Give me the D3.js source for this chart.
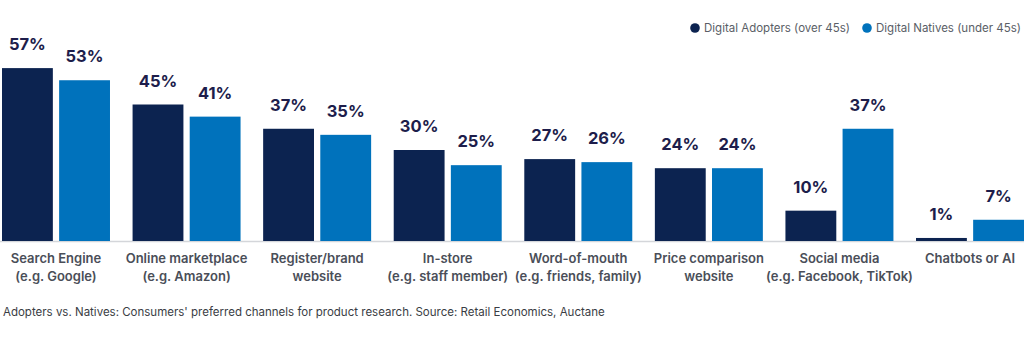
<!DOCTYPE html>
<html><head><meta charset="utf-8">
<script src="https://cdn.jsdelivr.net/npm/d3@7"></script>
<style>
html,body{margin:0;padding:0;background:#fff;}
svg{display:block;font-family:Inter, "Noto Sans", sans-serif;}
</style></head>
<body>
<svg id="chart" width="1024" height="355"></svg>
<script>
const categories = ["Search Engine|(e.g. Google)","Online marketplace|(e.g. Amazon)","Register/brand|website","In-store|(e.g. staff member)","Word-of-mouth|(e.g. friends, family)","Price comparison|website","Social media|(e.g. Facebook, TikTok)","Chatbots or AI"];
const seriesNames = ["Digital Adopters (over 45s)","Digital Natives (under 45s)"];
const adopters = [57,45,37,30,27,24,10,1];
const natives = [53,41,35,25,26,24,37,7];
const colors = ["#0c2350","#0072bc"];
const caption = "Adopters vs. Natives: Consumers' preferred channels for product research. Source: Retail Economics, Auctane";

const svg = d3.select("#chart");
const data = categories.map((c,i)=>({cat:c, values:[adopters[i], natives[i]]}));

const x0 = d3.scaleBand().domain(categories).range([2,1024]).paddingInner(0.173).paddingOuter(0);
const x1 = d3.scaleBand().domain([0,1]).range([0,x0.bandwidth()]).paddingInner(0.11).paddingOuter(0);
const y = d3.scaleLinear().domain([0,60]).range([241,59]);

// baseline
svg.append("line").attr("x1",0).attr("x2",1024).attr("y1",y(0)+0.5).attr("y2",y(0)+0.5)
  .attr("stroke","#d4d6da").attr("stroke-width",1.5);

const g = svg.selectAll("g.grp").data(data).enter().append("g")
  .attr("transform",d=>`translate(${x0(d.cat)},0)`);

g.selectAll("rect").data(d=>d.values.map((v,k)=>({v,k}))).enter().append("rect")
  .attr("x",d=>x1(d.k)).attr("width",x1.bandwidth())
  .attr("y",d=>y(d.v)).attr("height",d=>y(0)-y(d.v))
  .attr("fill",d=>colors[d.k]);

g.selectAll("text.val").data(d=>d.values.map((v,k)=>({v,k}))).enter().append("text")
  .attr("class","val")
  .attr("x",d=>x1(d.k)+x1.bandwidth()/2).attr("y",d=>y(d.v)-18)
  .attr("text-anchor","middle").attr("font-size",16.5).attr("font-weight",700)
  .attr("fill","#1d1d4b").text(d=>d.v+"%");

// category labels
g.each(function(d){
  const lines = d.cat.split("|");
  const t = d3.select(this).append("text")
    .attr("x",x0.bandwidth()/2).attr("y",263)
    .attr("text-anchor","middle").attr("font-size",13).attr("font-weight",600)
    .attr("fill","#4a4e58");
  lines.forEach((l,i)=>t.append("tspan").attr("x",x0.bandwidth()/2).attr("dy",i?17.5:0).text(l));
});

// legend
const legX = [695, 867];
seriesNames.forEach((s,i)=>{
  svg.append("circle").attr("cx",legX[i]).attr("cy",28).attr("r",4.8).attr("fill",colors[i]);
  svg.append("text").attr("x",legX[i]+9).attr("y",32).attr("font-size",11.5)
    .attr("fill","#5a5e66").text(s);
});

// caption
svg.append("text").attr("x",3).attr("y",316).attr("font-size",11.5).attr("fill","#3a3d44").text(caption);
</script>
</body></html>
